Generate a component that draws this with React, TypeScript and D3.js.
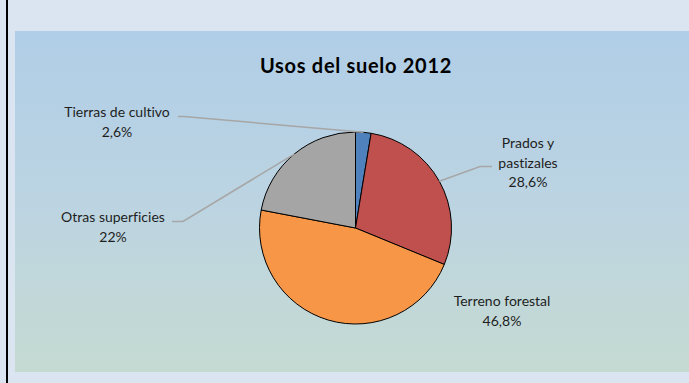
import { useEffect, useRef } from "react";
import * as d3 from "d3";

const categories = [
  "Tierras de cultivo",
  "Prados y pastizales",
  "Terreno forestal",
  "Otras superficies",
];
const values = [2.6, 28.6, 46.8, 22];
const colors = ["#4f81bd", "#c0504d", "#f79646", "#a5a5a5"];
const title = "Usos del suelo 2012";

// label lines as Excel wrapped them
const labelLines = [
  ["Tierras de cultivo"],
  ["Prados y", "pastizales"],
  ["Terreno forestal"],
  ["Otras superficies"],
];

type Layout = { x: number; y: number; leader: [number, number][] | null };

// where each label sits (center x, first baseline) and the elbow of its leader
const labelLayout: Layout[] = [
  { x: 117, y: 117, leader: [[178, 116.5], [184, 116.5]] },
  { x: 528, y: 148, leader: [[492, 166.5], [480, 166.5]] },
  { x: 502, y: 306, leader: null },
  { x: 113, y: 222, leader: [[172, 221.5], [183, 221.5]] },
];

const fmt = (v: number) => String(v).replace(".", ",") + "%";

const App = () => {
  const ref = useRef<SVGSVGElement>(null);

  useEffect(() => {
    const width = 689,
      height = 383;
    const svg = d3.select(ref.current);
    svg.selectAll("*").remove();
    svg.attr("width", width).attr("height", height);

    const defs = svg.append("defs");
    const grad = defs
      .append("linearGradient")
      .attr("id", "plotbg")
      .attr("x1", 0)
      .attr("y1", 0)
      .attr("x2", 0)
      .attr("y2", 1);
    grad.append("stop").attr("offset", "0%").attr("stop-color", "#b0cee7");
    grad.append("stop").attr("offset", "50%").attr("stop-color", "#bcd4e2");
    grad.append("stop").attr("offset", "100%").attr("stop-color", "#c5dad2");

    // chart area + plot area
    svg
      .append("rect")
      .attr("width", width)
      .attr("height", height)
      .attr("fill", "#dbe5f1");
    svg
      .append("rect")
      .attr("x", 15)
      .attr("y", 31)
      .attr("width", width - 15)
      .attr("height", 341)
      .attr("fill", "url(#plotbg)");
    svg
      .append("rect")
      .attr("x", 6)
      .attr("y", 0)
      .attr("width", 2)
      .attr("height", height)
      .attr("fill", "#000");

    svg
      .append("text")
      .attr("x", 356)
      .attr("y", 73)
      .attr("text-anchor", "middle")
      .style("font-family", "Lato, 'Open Sans', sans-serif")
      .style("font-size", "20px")
      .style("font-weight", "bold")
      .style("letter-spacing", "0.7px")
      .style("font-variant-ligatures", "none")
      .attr("fill", "#000")
      .text(title);

    const cx = 355.5,
      cy = 228,
      radius = 96;

    const data = categories.map((c, i) => ({ label: c, value: values[i] }));
    const pie = d3
      .pie<{ label: string; value: number }>()
      .sort(null)
      .value((d) => d.value);
    const arc = d3
      .arc<d3.PieArcDatum<{ label: string; value: number }>>()
      .innerRadius(0)
      .outerRadius(radius);
    const arcs = pie(data);

    const g = svg.append("g").attr("transform", `translate(${cx},${cy})`);
    g.selectAll("path")
      .data(arcs)
      .enter()
      .append("path")
      .attr("d", arc)
      .attr("fill", (_, i) => colors[i])
      .attr("stroke", "#000")
      .attr("stroke-width", 1);

    // leader lines
    arcs.forEach((a, i) => {
      const lay = labelLayout[i];
      if (!lay.leader) return;
      const mid = (a.startAngle + a.endAngle) / 2;
      const px = cx + radius * Math.sin(mid);
      const py = cy - radius * Math.cos(mid);
      const pts: [number, number][] = [...lay.leader, [px, py]];
      svg
        .append("path")
        .attr("d", d3.line()(pts))
        .attr("fill", "none")
        .attr("stroke", "#a6a6a6")
        .attr("stroke-width", 1.5);
    });

    // data labels
    arcs.forEach((a, i) => {
      const lay = labelLayout[i];
      const lines = [...labelLines[i], fmt(a.data.value)];
      const t = svg
        .append("text")
        .attr("text-anchor", "middle")
        .style("font-family", "Lato, 'Open Sans', sans-serif")
        .style("font-size", "14px")
        .style("font-variant-ligatures", "none")
        .attr("fill", "#1e1e1e");
      lines.forEach((l, j) => {
        t.append("tspan")
          .attr("x", lay.x)
          .attr("y", lay.y + j * 19.5)
          .text(l);
      });
    });
  }, []);

  return (
    <svg
      ref={ref}
      style={{ position: "absolute", left: 0, top: 0, display: "block" }}
    />
  );
};

export default App;
